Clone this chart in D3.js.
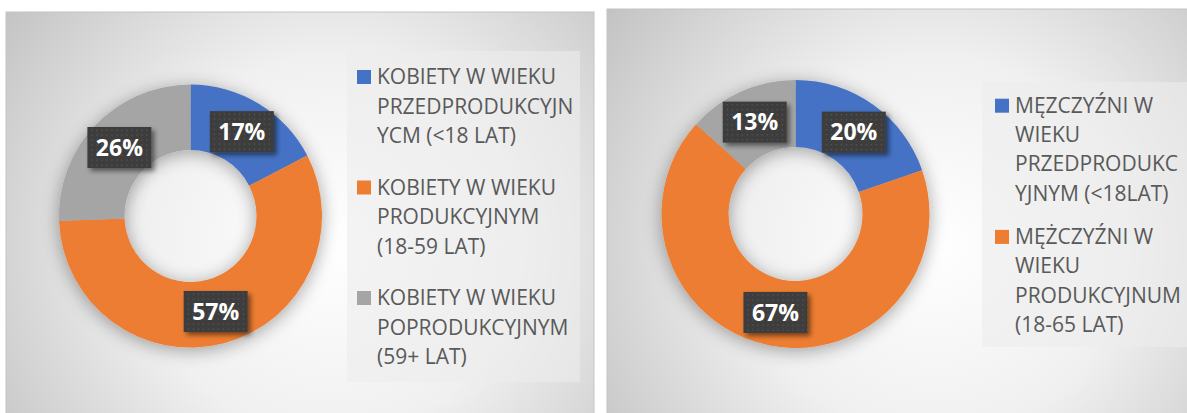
<!DOCTYPE html>
<html>
<head>
<meta charset="utf-8">
<script src="https://cdn.jsdelivr.net/npm/d3@7"></script>
<style>
  html, body { margin: 0; padding: 0; background: #ffffff; }
  svg { display: block; }
</style>
</head>
<body>
<svg id="chart" width="1187" height="413"></svg>
<script>
// ---------- DATA ----------
const leftCategories = [
  "KOBIETY W WIEKU PRZEDPRODUKCYJNYCM (<18 LAT)",
  "KOBIETY W WIEKU PRODUKCYJNYM (18-59 LAT)",
  "KOBIETY W WIEKU POPRODUKCYJNYM (59+ LAT)"
];
const leftValues = [17.4, 57.0, 25.6];
const leftLegendLines = [
  ["KOBIETY W WIEKU", "PRZEDPRODUKCYJN", "YCM (<18 LAT)"],
  ["KOBIETY W WIEKU", "PRODUKCYJNYM", "(18-59 LAT)"],
  ["KOBIETY W WIEKU", "POPRODUKCYJNYM", "(59+ LAT)"]
];

const rightCategories = [
  "MĘZCZYŹNI W WIEKU PRZEDPRODUKCYJNYM (<18LAT)",
  "MĘŻCZYŹNI W WIEKU PRODUKCYJNUM (18-65 LAT)",
  "MĘŻCZYŹNI W WIEKU POPRODUKCYJNYM"
];
const rightValues = [19.7, 67.0, 13.3];
const rightLegendLines = [
  ["MĘZCZYŹNI W", "WIEKU", "PRZEDPRODUKC", "YJNYM (<18LAT)"],
  ["MĘŻCZYŹNI W", "WIEKU", "PRODUKCYJNUM", "(18-65 LAT)"]
];

const sliceColors = ["#4472C4", "#ED7D31", "#A5A5A5"];

// ---------- SETUP ----------
const svg = d3.select("#chart");
const defs = svg.append("defs");

function panelGradient(id, cx, cy) {
  const g = defs.append("radialGradient").attr("id", id)
    .attr("gradientUnits", "userSpaceOnUse")
    .attr("cx", cx).attr("cy", cy).attr("r", 420);
  g.append("stop").attr("offset", 0).attr("stop-color", "#ffffff");
  g.append("stop").attr("offset", 0.45).attr("stop-color", "#f0f0f0");
  g.append("stop").attr("offset", 0.78).attr("stop-color", "#d3d3d3");
  g.append("stop").attr("offset", 1).attr("stop-color", "#bfbfbf");
}
panelGradient("bgL", 330, 245);
panelGradient("bgR", 935, 245);

// soft shadow for the ring
const fRing = defs.append("filter").attr("id", "ringShadow")
  .attr("x", "-30%").attr("y", "-30%").attr("width", "160%").attr("height", "160%");
fRing.append("feGaussianBlur").attr("in", "SourceAlpha").attr("stdDeviation", 9).attr("result", "b");
fRing.append("feOffset").attr("in", "b").attr("dx", 0).attr("dy", 3).attr("result", "o");
fRing.append("feComponentTransfer").attr("in", "o").attr("result", "s")
  .append("feFuncA").attr("type", "linear").attr("slope", 0.35);
const mr = fRing.append("feMerge");
mr.append("feMergeNode").attr("in", "s");
mr.append("feMergeNode").attr("in", "SourceGraphic");

// label box shadow
const fLab = defs.append("filter").attr("id", "labShadow")
  .attr("x", "-30%").attr("y", "-30%").attr("width", "170%").attr("height", "170%");
fLab.append("feGaussianBlur").attr("in", "SourceAlpha").attr("stdDeviation", 2.5).attr("result", "b");
fLab.append("feOffset").attr("in", "b").attr("dx", 3).attr("dy", 3).attr("result", "o");
fLab.append("feComponentTransfer").attr("in", "o").attr("result", "s")
  .append("feFuncA").attr("type", "linear").attr("slope", 0.5);
const ml = fLab.append("feMerge");
ml.append("feMergeNode").attr("in", "s");
ml.append("feMergeNode").attr("in", "SourceGraphic");

// dotted dark pattern for label boxes
const pat = defs.append("pattern").attr("id", "dots")
  .attr("patternUnits", "userSpaceOnUse").attr("width", 5).attr("height", 5);
pat.append("rect").attr("width", 5).attr("height", 5).attr("fill", "#3d3d3d");
pat.append("rect").attr("x", 2).attr("y", 2).attr("width", 1.2).attr("height", 1.2).attr("fill", "#5a5a5a");

// ---------- DRAW ----------
function drawPanel(cfg) {
  const g = svg.append("g");
  g.append("rect")
    .attr("x", cfg.px).attr("y", cfg.py).attr("width", cfg.pw).attr("height", cfg.ph)
    .attr("fill", `url(#${cfg.grad})`).attr("stroke", "#c4c4c4").attr("stroke-width", 1);

  const pie = d3.pie().sort(null).value(d => d);
  const arcs = pie(cfg.values);
  const arc = d3.arc().innerRadius(cfg.ri).outerRadius(cfg.ro);

  const donut = g.append("g")
    .attr("transform", `translate(${cfg.cx},${cfg.cy})`)
    .attr("filter", "url(#ringShadow)");
  donut.selectAll("path").data(arcs).join("path")
    .attr("d", arc)
    .attr("fill", (d, i) => sliceColors[i]);

  const labels = g.append("g").attr("transform", `translate(${cfg.cx},${cfg.cy})`);
  const lg = labels.selectAll("g").data(arcs).join("g")
    .attr("transform", d => { const c = arc.centroid(d); return `translate(${c[0]},${c[1]})`; });
  lg.append("rect")
    .attr("x", -32).attr("y", -20.5).attr("width", 64).attr("height", 41)
    .attr("fill", "url(#dots)").attr("filter", "url(#labShadow)");
  lg.append("text")
    .attr("text-anchor", "middle").attr("dy", "0.36em")
    .attr("font-family", "'Open Sans', sans-serif").attr("font-weight", 700)
    .attr("font-size", 23).attr("fill", "#ffffff")
    .text(d => Math.round(d.data) + "%");

  // legend
  g.append("rect")
    .attr("x", cfg.lx).attr("y", cfg.ly).attr("width", cfg.lw).attr("height", cfg.lh)
    .attr("fill", "#ececec").attr("fill-opacity", 0.6);
  let y = cfg.firstBaseline;
  cfg.legend.forEach((lines, i) => {
    g.append("rect")
      .attr("x", cfg.markerX).attr("y", y - 14).attr("width", 14).attr("height", 14)
      .attr("fill", sliceColors[i]);
    const t = g.append("text")
      .attr("font-family", "'Open Sans', sans-serif").attr("font-size", 21)
      .attr("fill", "#595959");
    lines.forEach((ln, j) => {
      t.append("tspan").attr("x", cfg.textX).attr("y", y + j * cfg.lineH).text(ln);
    });
    y += lines.length * cfg.lineH + cfg.gap;
  });
}

drawPanel({
  px: 6, py: 12, pw: 588, ph: 410, grad: "bgL",
  values: leftValues, cx: 190.5, cy: 216, ri: 66, ro: 131.5,
  lx: 347, ly: 51, lw: 233, lh: 331,
  legend: leftLegendLines, markerX: 357, textX: 377,
  firstBaseline: 84, lineH: 29.5, gap: 22
});

drawPanel({
  px: 607, py: 9, pw: 600, ph: 413, grad: "bgR",
  values: rightValues, cx: 795.5, cy: 214, ri: 67, ro: 134,
  lx: 982, ly: 82, lw: 220, lh: 265,
  legend: rightLegendLines, markerX: 995, textX: 1015,
  firstBaseline: 112.7, lineH: 29.3, gap: 14
});
</script>
</body>
</html>
